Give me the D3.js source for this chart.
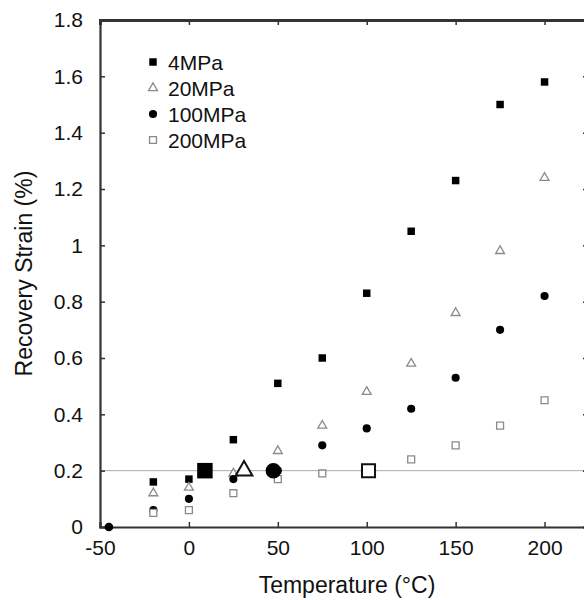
<!DOCTYPE html>
<html>
<head>
<meta charset="utf-8">
<script src="https://cdn.jsdelivr.net/npm/d3@7"></script>
<style>
  body { margin: 0; background: #fff; }
  svg { display: block; font-family: "Liberation Sans", Arial, sans-serif; }
</style>
</head>
<body>
<div id="place"></div>
<script>
// temperatures (°C) and recovery strain (%) per stress level
const temps = [-20, 0, 25, 50, 75, 100, 125, 150, 175, 200];
const strain4 = [0.16, 0.17, 0.31, 0.51, 0.60, 0.83, 1.05, 1.23, 1.50, 1.58];
const strain20 = [0.12, 0.14, 0.19, 0.27, 0.36, 0.48, 0.58, 0.76, 0.98, 1.24];
const strain100 = [0.06, 0.10, 0.17, 0.20, 0.29, 0.35, 0.42, 0.53, 0.70, 0.82];
const strain200 = [0.05, 0.06, 0.12, 0.17, 0.19, 0.20, 0.24, 0.29, 0.36, 0.45];
// lone point on the axis at the origin
const originPoint = { t: -45, s: 0 };
// temperatures where each curve crosses 0.2 %
const crossTemps = [9, 31, 47.5, 101];
const crossStrain = 0.2;

const seriesNames = ["4MPa", "20MPa", "100MPa", "200MPa"];
const xTicks = [-50, 0, 50, 100, 150, 200];
const yTicks = [0, 0.2, 0.4, 0.6, 0.8, 1, 1.2, 1.4, 1.6, 1.8];

const W = 584, H = 600;
const svg = d3.select("#place").append("svg").attr("width", W).attr("height", H);

const x = d3.scaleLinear().domain([-50, 225]).range([100, 589]);
const y = d3.scaleLinear().domain([0, 1.8]).range([527, 20]);

const axisCol = "#333";
const grey = "#8a8a8a";

// shape settings per series
const styles = [
  { type: d3.symbolSquare, fill: "#000", stroke: "none", size: 56 },
  { type: d3.symbolTriangle, fill: "#fff", stroke: grey, size: 34 },
  { type: d3.symbolCircle, fill: "#000", stroke: "none", size: 52 },
  { type: d3.symbolSquare, fill: "#fff", stroke: grey, size: 48 }
];
const bigStyles = [
  { type: d3.symbolSquare, fill: "#000", stroke: "none", size: 240 },
  { type: d3.symbolTriangle, fill: "#fff", stroke: "#111", size: 120 },
  { type: d3.symbolCircle, fill: "#000", stroke: "none", size: 190 },
  { type: d3.symbolSquare, fill: "#fff", stroke: "#111", size: 170 }
];

// reference line at 0.2
svg.append("line")
  .attr("x1", x(-50)).attr("x2", W)
  .attr("y1", y(crossStrain)).attr("y2", y(crossStrain))
  .attr("stroke", "#aaa").attr("stroke-width", 1);

// axes, ticks all inward
const fmt = d => String(+d.toFixed(1));
const gx = svg.append("g").attr("transform", `translate(0,${y(0)})`)
  .call(d3.axisBottom(x).tickValues(xTicks).tickSize(-5).tickPadding(13).tickFormat(d => d));
const gxTop = svg.append("g").attr("transform", `translate(0,${y(1.8)})`)
  .call(d3.axisTop(x).tickValues(xTicks.concat([250])).tickSize(-5).tickFormat(""));
const gy = svg.append("g").attr("transform", `translate(${x(-50)},0)`)
  .call(d3.axisLeft(y).tickValues(yTicks).tickSize(-5).tickPadding(17).tickFormat(fmt));
const gyRight = svg.append("g").attr("transform", `translate(${x(225)},0)`)
  .call(d3.axisRight(y).tickValues(yTicks).tickSize(-6).tickFormat(""));

[gx, gxTop, gy, gyRight].forEach(g => {
  g.select(".domain").attr("stroke", axisCol).attr("stroke-width", 2.2);
  g.selectAll(".tick line").attr("stroke", axisCol).attr("stroke-width", 1.5);
  g.selectAll(".tick text").attr("fill", "#111").style("font-size", "21px").style("font-family", "Liberation Sans, Arial, sans-serif");
});
gxTop.select(".domain").attr("stroke-width", 3);

// axis titles
svg.append("text")
  .attr("x", 347).attr("y", 593)
  .attr("text-anchor", "middle")
  .style("font-size", "23px").attr("fill", "#111")
  .text("Temperature (°C)");
svg.append("text")
  .attr("transform", `translate(32,${(y(0) + y(1.8)) / 2}) rotate(-90)`)
  .attr("text-anchor", "middle")
  .style("font-size", "23px").attr("fill", "#111")
  .text("Recovery Strain (%)");

// data points
const allSeries = [strain4, strain20, strain100, strain200];
const plot = svg.append("g");

allSeries.forEach((vals, i) => {
  const st = styles[i];
  plot.selectAll(".s" + i)
    .data(temps.map((t, j) => ({ t: t, s: vals[j] })))
    .enter().append("path")
    .attr("class", "s" + i)
    .attr("transform", d => `translate(${x(d.t)},${y(d.s)})`)
    .attr("d", d3.symbol().type(st.type).size(st.size))
    .attr("fill", st.fill).attr("stroke", st.stroke).attr("stroke-width", 1.3);
});

plot.append("path")
  .attr("transform", `translate(${x(originPoint.t)},${y(originPoint.s)})`)
  .attr("d", d3.symbol().type(d3.symbolCircle).size(60))
  .attr("fill", "#000");

// big markers on the 0.2 line
plot.selectAll(".big")
  .data(crossTemps)
  .enter().append("path")
  .attr("class", "big")
  .attr("transform", d => `translate(${x(d)},${y(crossStrain)})`)
  .attr("d", (d, i) => d3.symbol().type(bigStyles[i].type).size(bigStyles[i].size)())
  .attr("fill", (d, i) => bigStyles[i].fill)
  .attr("stroke", (d, i) => bigStyles[i].stroke)
  .attr("stroke-width", 2);

// legend
const legend = svg.append("g").attr("transform", "translate(153,62)");
seriesNames.forEach((name, i) => {
  const row = legend.append("g").attr("transform", `translate(0,${i * 26})`);
  row.append("path")
    .attr("d", d3.symbol().type(styles[i].type).size(styles[i].size)())
    .attr("fill", styles[i].fill).attr("stroke", styles[i].stroke).attr("stroke-width", 1.3);
  row.append("text")
    .attr("x", 15).attr("y", 7.5)
    .style("font-size", "21px").attr("fill", "#111")
    .text(name);
});
</script>
</body>
</html>
